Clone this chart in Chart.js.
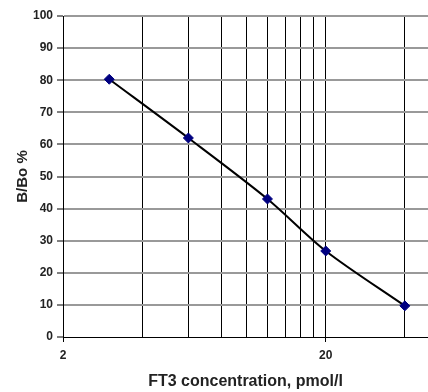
<!DOCTYPE html>
<html>
<head>
<meta charset="utf-8">
<script src="https://cdn.jsdelivr.net/npm/chart.js@4/dist/chart.umd.min.js"></script>
<style>
  html, body { margin: 0; padding: 0; background: #fff; }
  #wrap { width: 428px; height: 392px; }
</style>
</head>
<body>
<div id="wrap"><canvas id="myChart" width="428" height="392"></canvas></div>
<script>
// FT3 concentration (pmol/l) and B/Bo %
const concentrations = [3, 6, 12, 20, 40];
const bboValues = [80.3, 62, 43, 26.8, 9.7];
// vertical gridlines of the log axis and which of them carry a label
const xGridValues = [2, 4, 6, 8, 10, 12, 14, 16, 18, 20, 40];
const xTickLabels = [2, 20];

const points = concentrations.map((c, i) => ({ x: c, y: bboValues[i] }));

const ctx = document.getElementById('myChart').getContext('2d');
const chart = new Chart(ctx, {
    type: 'line',
    data: {
        datasets: [{
            data: points,
            borderColor: '#000',
            borderWidth: 2,
            tension: 0.3,
            clip: false,
            pointStyle: 'rectRot',
            pointRadius: 5,
            pointBackgroundColor: '#000080',
            pointBorderColor: '#000080',
            pointBorderWidth: 1
        }]
    },
    options: {
        responsive: false,
        animation: false,
        layout: { autoPadding: false, padding: { top: 16, right: 0, left: 0, bottom: 0 } },
        plugins: {
            legend: { display: false },
            tooltip: { enabled: false }
        },
        scales: {
            x: {
                type: 'logarithmic',
                min: 2,
                max: 49,
                bounds: 'data',
                afterBuildTicks: (scale) => {
                    scale.ticks = xGridValues.map(v => ({ value: v }));
                },
                afterFit: (scale) => {
                    scale.height = 55;
                    scale.paddingRight = 0;
                    scale.paddingLeft = 0;
                },
                ticks: {
                    autoSkip: false,
                    maxRotation: 0,
                    padding: 6,
                    color: '#222',
                    font: { family: 'Liberation Sans', size: 12, weight: 'bold' },
                    callback: (value) => xTickLabels.includes(value) ? String(value) : ''
                },
                grid: {
                    color: (c) => (c.tick && c.tick.value === 2) ? 'rgba(0,0,0,0)' : '#000',
                    lineWidth: 1,
                    tickLength: 5,
                    tickColor: (c) => (c.tick && xTickLabels.includes(c.tick.value)) ? '#000' : 'rgba(0,0,0,0)'
                },
                border: { color: '#000', width: 1 },
                title: {
                    display: true,
                    text: 'FT3 concentration, pmol/l',
                    color: '#222',
                    font: { family: 'Liberation Sans', size: 16, weight: 'bold' },
                    padding: { top: 0, bottom: 1 }
                }
            },
            y: {
                min: 0,
                max: 100,
                afterFit: (scale) => { scale.width = 63; },
                ticks: {
                    stepSize: 10,
                    padding: 4,
                    color: '#222',
                    font: { family: 'Liberation Sans', size: 12, weight: 'bold' }
                },
                grid: {
                    color: (c) => (c.tick && c.tick.value === 0) ? 'rgba(0,0,0,0)' : '#999',
                    lineWidth: 2,
                    tickLength: 6,
                    tickColor: '#000',
                    tickWidth: 1
                },
                border: { color: '#000', width: 1 },
                title: {
                    display: true,
                    text: 'B/Bo %',
                    color: '#222',
                    font: { family: 'Liberation Sans', size: 15, weight: 'bold' },
                    padding: { top: 14, bottom: 0 }
                }
            }
        }
    }
});
</script>
</body>
</html>
